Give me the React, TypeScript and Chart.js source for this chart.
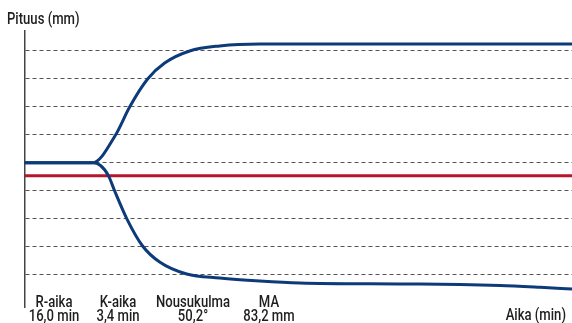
import React, { useEffect, useRef } from "react";
import { Chart, registerables } from "chart.js";

Chart.register(...registerables);

// Time (min) and length (mm) readings of the two curve branches
const timeUpper = [0, 7.46, 9.98, 11.52, 13.49, 15.36, 18.1, 21.39, 25.78, 60];
const lengthUpper = [40.1, 40.1, 50, 60, 70, 75.7, 80, 81.8, 82.5, 82.5];

const timeLower = [0, 7.46, 8.3, 9.21, 9.87, 11.19, 12.94, 14.81, 17.77, 21.39, 25.78, 30.16, 41.13, 47.71, 52.1, 56.5, 60];
const lengthLower = [40.1, 40.1, 39.2, 35.4, 30.1, 20.25, 10.36, 4.64, 0.36, -1.07, -2.14, -2.86, -3.21, -3.39, -3.75, -4.4, -5];

const referenceTime = [0, 60];
const referenceLength = [35.4, 35.4];

const gridTicks = [0, 10, 20, 30, 40, 50, 60, 70, 80];

const yAxisTitle = "Pituus (mm)";
const xAxisTitle = "Aika (min)";
const paramNames = ["R-aika", "K-aika", "Nousukulma", "MA"];
const paramValues = ["16,0 min", "3,4 min", "50,2°", "83,2 mm"];
const paramCenters = [54, 118, 193, 269];

const FONT = '500 17px Roboto, "Liberation Sans", sans-serif';

const textPlugin = {
  id: "texts",
  afterDraw(chart: any) {
    const ctx = chart.ctx;
    ctx.save();
    ctx.fillStyle = "#1e1e1e";
    ctx.font = FONT;
    ctx.textBaseline = "alphabetic";
    const narrow = 74 / ctx.measureText("Nousukulma").width;
    ctx.scale(narrow, 1);
    ctx.textAlign = "left";
    ctx.fillText(yAxisTitle, 7 / narrow, 24);
    ctx.textAlign = "right";
    ctx.fillText(xAxisTitle, 566 / narrow, 320);
    ctx.textAlign = "center";
    paramNames.forEach((n, i) => {
      ctx.fillText(n, paramCenters[i] / narrow, 307);
      ctx.fillText(paramValues[i], paramCenters[i] / narrow, 320.5);
    });
    ctx.restore();
  },
};

export default function App() {
  const ref = useRef<HTMLCanvasElement>(null);
  useEffect(() => {
    if (!ref.current) return;
    const toPts = (xs: number[], ys: number[]) => xs.map((x, i) => ({ x, y: ys[i] }));
    const chart = new Chart(ref.current, {
      type: "line",
      data: {
        datasets: [
          {
            data: toPts(timeUpper, lengthUpper),
            borderColor: "#0d3b7a",
            borderWidth: 3,
            pointRadius: 0,
            cubicInterpolationMode: "monotone",
            fill: false,
          },
          {
            data: toPts(timeLower, lengthLower),
            borderColor: "#0d3b7a",
            borderWidth: 3,
            pointRadius: 0,
            cubicInterpolationMode: "monotone",
            fill: false,
          },
          {
            data: toPts(referenceTime, referenceLength),
            borderColor: "#b5162b",
            borderWidth: 3,
            pointRadius: 0,
            fill: false,
          },
        ],
      },
      options: {
        animation: false,
        responsive: false,
        layout: { padding: { left: 24.5, right: 0, top: 31, bottom: 16 } },
        plugins: { legend: { display: false }, tooltip: { enabled: false }, title: { display: false } },
        scales: {
          x: { type: "linear", min: 0, max: 60, display: false },
          y: {
            type: "linear",
            min: -11.43,
            max: 87.14,
            afterBuildTicks: (scale: any) => {
              scale.ticks = gridTicks.map((v) => ({ value: v }));
            },
            ticks: { display: false },
            grid: { drawTicks: false, tickLength: 0, color: "#555", lineWidth: 1 },
            border: { display: true, color: "#444", width: 1.5, dash: [4, 3] },
          },
        },
      },
      plugins: [textPlugin],
    });
    return () => chart.destroy();
  }, []);
  return (
    <div style={{ position: "fixed", left: 0, top: 0, width: 572, height: 323, background: "#fff" }}>
      <canvas ref={ref} width={572} height={323} style={{ width: 572, height: 323 }} />
    </div>
  );
}
